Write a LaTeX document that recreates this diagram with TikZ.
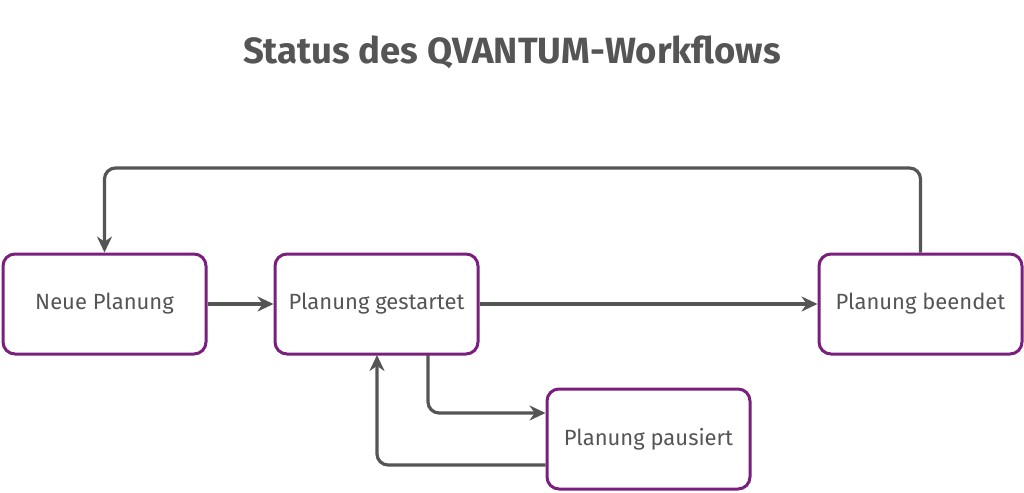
\documentclass[tikz,border=0pt]{standalone}
\usepackage{fontspec}
\setmainfont{Fira Sans}
\usetikzlibrary{arrows.meta}
\definecolor{pur}{HTML}{7B1F7E}
\definecolor{gr}{HTML}{555555}
\begin{document}
\begin{tikzpicture}[x=1pt,y=-1pt,
  box/.style={draw=pur,line width=3pt,rounded corners=12pt,minimum width=203pt,minimum height=100pt,fill=white,text=gr,font=\fontsize{22}{24}\selectfont},
  conn/.style={draw=gr,line width=3.2pt,rounded corners=11pt,-{Stealth[length=16pt,width=15pt]}}]
\useasboundingbox (0,0) rectangle (1024,492);
\node[text=gr,font=\fontsize{36.5}{40}\selectfont\bfseries] (title) at (512,52) {Status des QVANTUM-Workflows};
\node[box] (neu) at (104.5,304) {Neue Planung};
\node[box] (ges) at (376.5,304) {Planung gestartet};
\node[box] (bee) at (920.5,304) {Planung beendet};
\node[box] (pau) at (648.5,439) {Planung pausiert};
\draw[conn] (neu.east) -- (ges.west);
\draw[conn] (ges.east) -- (bee.west);
\draw[conn] (bee.north) -- (920.5,168) -- (104.5,168) -- (neu.north);
\draw[conn] (428,355) -- (428,413) -- (pau.west |- 0,413);
\draw[conn] (pau.west |- 0,465) -- (377,465) -- (377,355);
\end{tikzpicture}
\end{document}
